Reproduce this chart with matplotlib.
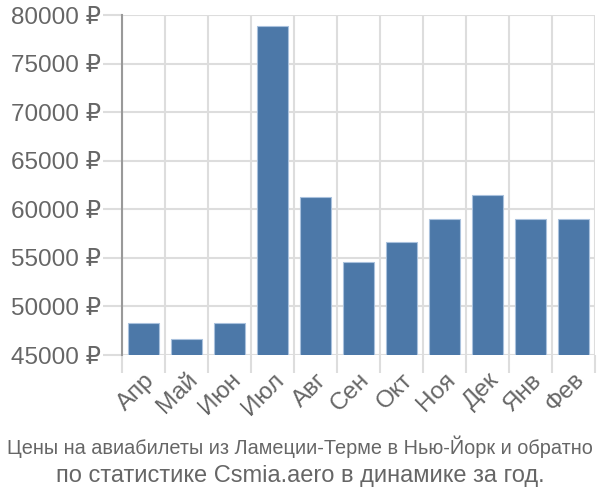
import matplotlib
matplotlib.use("Agg")
import matplotlib.pyplot as plt
from matplotlib.ticker import FixedLocator, NullFormatter
import numpy as np

months = ["Апр", "Май", "Июн", "Июл", "Авг", "Сен", "Окт", "Ноя", "Дек", "Янв", "Фев"]
prices = [48300, 46650, 48300, 78850, 61250, 54550, 56600, 58950, 61450, 59050, 59050]
yticks = [45000, 50000, 55000, 60000, 65000, 70000, 75000, 80000]
title_1 = "Цены на авиабилеты из Ламеции-Терме в Нью-Йорк и обратно"
title_2 = "по статистике Csmia.aero в динамике за год."

plt.rcParams['font.family'] = ['Liberation Sans', 'DejaVu Sans']

fig = plt.figure(figsize=(6, 5), dpi=100)
ax = fig.add_axes([122/600, 1-355/500, 473/600, 340/500])

x = np.arange(len(months))
ax.bar(x, prices, width=0.72, color='#4c78a8', edgecolor='#a9c1dd', linewidth=0.8, zorder=3)

ax.set_xlim(-0.5, len(months) - 0.5)
ax.set_ylim(45000, 80000)

ax.set_yticks(yticks)
ax.set_yticklabels([f"{v} ₽" for v in yticks])
ax.set_xticks(x)
ax.set_xticklabels(months, rotation=45, ha='right', va='top', rotation_mode='anchor')
ax.xaxis.set_minor_locator(FixedLocator(np.arange(-0.5, len(months), 1.0)))
ax.xaxis.set_minor_formatter(NullFormatter())

gc = '#dddddd'
ax.grid(axis='y', which='major', color=gc, linewidth=1.5, zorder=0)
ax.grid(axis='x', which='minor', color=gc, linewidth=1.5, zorder=0)
ax.tick_params(axis='y', which='major', length=14, width=1.5, color=gc, labelsize=17.5, labelcolor='#666666', pad=1)
ax.tick_params(axis='x', which='major', length=0, labelsize=17.5, labelcolor='#666666', pad=10)
ax.tick_params(axis='x', which='minor', length=13, width=1.5, color=gc)

for s in ['top', 'right', 'bottom']:
    ax.spines[s].set_visible(False)
ax.spines['left'].set_color('#999999')
ax.spines['left'].set_linewidth(1.5)

fig.text(0.5, 1-447/500, title_1, ha='center', va='center', fontsize=14.3, color='#666666')
fig.text(0.5, 1-476/500, title_2, ha='center', va='center', fontsize=17, color='#666666')

fig.savefig('out.png', dpi=100)
